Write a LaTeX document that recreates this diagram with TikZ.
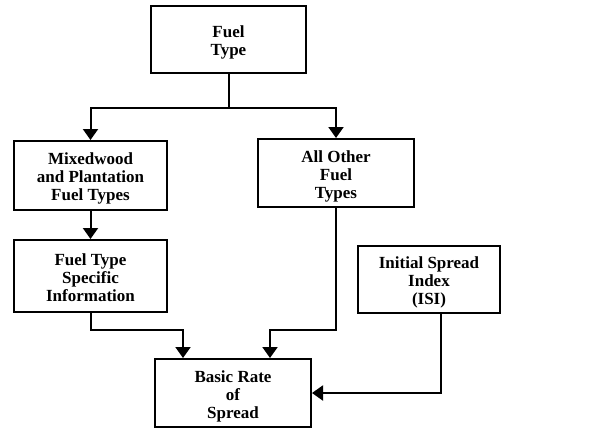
\documentclass[tikz,border=0pt]{standalone}
\usepackage{fontspec}
\setmainfont{Liberation Serif}
\usetikzlibrary{arrows.meta}
\newcommand\boxlines[1]{\begin{tabular}{@{}c@{}}\rule{0pt}{20pt}#1\end{tabular}}
\tikzset{
BOX/.style ={draw=black,line width=2pt,inner sep=0pt,font=\fontsize{17}{18}\selectfont\bfseries},
LINK/.style ={draw=black,line width=2pt,line join=miter},
ARROW/.style={LINK,-{Triangle[length=11pt,width=15pt]}},
}
\begin{document}
\begin{tikzpicture}[x=1pt,y=-1pt]
	\useasboundingbox (0,0) rectangle (615,429);
	% boxes
	\node[BOX,minimum width=155pt,minimum height=67pt] (fuel) at (228.5,39.5) {\boxlines{Fuel\\Type}};
	\node[BOX,minimum width=153pt,minimum height=69pt] (mixed) at (90.5,175.5) {\boxlines{Mixedwood\\and Plantation\\Fuel Types}};
	\node[BOX,minimum width=156pt,minimum height=68pt] (other) at (336,173) {\boxlines{All Other\\Fuel\\Types}};
	\node[BOX,minimum width=153pt,minimum height=72pt] (specific) at (90.5,276) {\boxlines{Fuel Type\\Specific\\Information}};
	\node[BOX,minimum width=142pt,minimum height=67pt] (isi) at (429,279.5) {\boxlines{Initial Spread\\Index\\(ISI)}};
	\node[BOX,minimum width=156pt,minimum height=68pt] (basic) at (233,393) {\boxlines{Basic Rate\\of\\Spread}};
	\coordinate (split) at (0,108);
	\coordinate (join) at (0,330);
	% connectors
	\path[LINK] (fuel.south) -- (fuel.south |- split);
	\path[ARROW] (fuel.south |- split) -| (mixed.north);
	\path[ARROW] (fuel.south |- split) -| (other.north);
	\path[ARROW] (mixed.south) -- (specific.north);
	\path[ARROW] (specific.south) -- (specific.south |- join) -| ([xshift=-50pt]basic.north);
	\path[ARROW] (other.south) -- (other.south |- join) -| ([xshift=37pt]basic.north);
	\path[ARROW] ([xshift=12pt]isi.south) |- (basic.east);
\end{tikzpicture}
\end{document}
